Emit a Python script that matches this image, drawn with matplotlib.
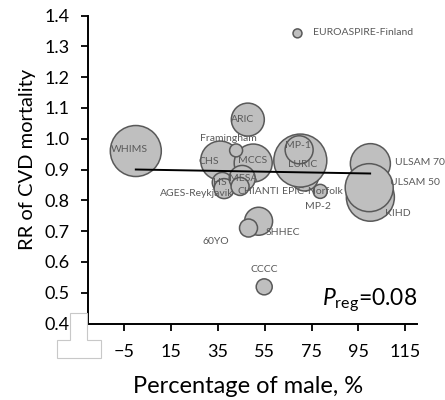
import matplotlib
matplotlib.use("Agg")
import matplotlib.pyplot as plt
from matplotlib.patches import Polygon
import numpy as np

plt.rcParams['font.family'] = ['Lato', 'DejaVu Sans']
plt.rcParams['mathtext.fontset'] = 'custom'
plt.rcParams['mathtext.rm'] = 'Lato'
plt.rcParams['mathtext.it'] = 'Lato:italic'

# study data: percentage of male, RR of CVD mortality, bubble weight
studies = ["EPIC-Norfolk", "WHIMS", "ARIC", "CHS", "MCCS", "LURIC", "MP-1", "Framingham",
           "ULSAM 70", "KIHD", "ULSAM 50", "HS", "AGES-Reykjavik", "MESA", "CHIANTI",
           "MP-2", "SHHEC", "60YO", "CCCC", "EUROASPIRE-Finland"]
male_pct = [72, 0, 47.8, 36.0, 50.1, 70.2, 69.7, 42.8,
            100.1, 100.1, 99.6, 36.9, 37.7, 45.4, 44.5,
            78.7, 52.4, 48.1, 54.8, 69.0]
rr = [0.875, 0.96, 1.062, 0.929, 0.921, 0.929, 0.964, 0.962,
      0.919, 0.810, 0.841, 0.858, 0.838, 0.871, 0.845,
      0.829, 0.732, 0.710, 0.519, 1.342]
weight = [190, 650, 272, 380, 361, 702, 196, 42,
          400, 576, 576, 100, 100, 169, 81,
          49, 196, 81, 64, 20]

# regression line
reg_x = [0, 100]
reg_y = [0.90, 0.887]

# label offsets (pixels) and alignment
lab_off = [(8, -14), (-6, 1.5), (-5, 0), (-11, -0.7), (-1, 2.3), (2, -4), (-1, 4.3), (-8, 12.4),
           (25, 1), (15, -16), (21, 4.7), (-2, 0), (-27, -5), (1, 0), (18.7, -4.7),
           (-2, -15.3), (24, -11.3), (-33, -13.7), (0, 17.3), (15.4, 1.3)]
lab_ha = ['center'] * 8 + ['left', 'left', 'left'] + ['center'] * 8 + ['left']

fig = plt.figure(figsize=(4.45, 4.0), dpi=100)
ax = fig.add_axes([88 / 445, 1 - 323.5 / 400, (417 - 88) / 445, (323.5 - 15.5) / 400])

px2pt = 0.72
sizes = [(2 * np.sqrt(w) * px2pt) ** 2 for w in weight]
ax.scatter(male_pct, rr, s=sizes, facecolor='#bfbfbf', edgecolor='#595959',
           linewidth=1.1, zorder=2, clip_on=False)
ax.plot(reg_x, reg_y, color='black', lw=1.4, zorder=3)

for name, x, y, off, ha in zip(studies, male_pct, rr, lab_off, lab_ha):
    ax.annotate(name, (x, y), xytext=(off[0] * px2pt, off[1] * px2pt),
                textcoords='offset points', ha=ha, va='center',
                fontsize=7.5, color='#595959', zorder=4)

ax.text(1.0, 0.03, r'$\mathit{P}_{\mathrm{reg}}$=0.08', transform=ax.transAxes,
        ha='right', va='bottom', fontsize=16.5)

ax.set_xlim(-20.4, 120)
ax.set_ylim(0.4, 1.4)
ax.set_xticks([-5, 15, 35, 55, 75, 95, 115])
ax.set_yticks(np.arange(0.4, 1.41, 0.1))
ax.set_yticklabels([f"{v:.1f}" for v in np.arange(0.4, 1.41, 0.1)])
ax.tick_params(labelsize=13, width=1.3, length=5, direction='out', colors='black')
ax.tick_params(axis='y', pad=8)
ax.tick_params(axis='x', pad=10)
for s in ['top', 'right']:
    ax.spines[s].set_visible(False)
for s in ['left', 'bottom']:
    ax.spines[s].set_linewidth(1.4)
ax.set_ylabel("RR of CVD mortality", fontsize=14.5)
ax.set_xlabel("Percentage of male, %", fontsize=17)
ax.yaxis.set_label_coords(-0.158, 0.534)
ax.xaxis.set_label_coords(0.485, -0.172)

# grey outlined box left over at the axis corner
box = [(70, 313), (87, 313), (87, 340), (101, 340), (101, 358), (57, 358), (57, 340), (70, 340)]
fig.patches.append(Polygon([(x / 445, 1 - y / 400) for x, y in box], closed=True,
                           transform=fig.transFigure, facecolor='white',
                           edgecolor='#c8c8c8', lw=0.8, zorder=5))

plt.savefig("out.png", dpi=100)
